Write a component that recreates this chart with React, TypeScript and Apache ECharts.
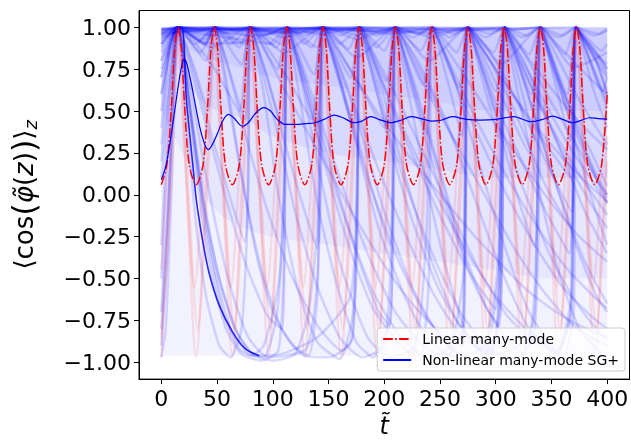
import React, { useEffect, useRef } from "react";
import * as echarts from "echarts";

// ---- tick values ----
const xTicks = [0, 50, 100, 150, 200, 250, 300, 350, 400];
const yTicks = [-1, -0.75, -0.5, -0.25, 0, 0.25, 0.5, 0.75, 1];

// ---- many-mode averages (t, value pairs, flat) ----
const linearManyMode = [
  0, 0.06, 5, 0.18, 9, 0.52, 12, 0.87, 15, 1.0, 18, 0.87, 21, 0.52, 25, 0.18, 31.25, 0.06,
  37.5, 0.18, 41.5, 0.52, 44.5, 0.87, 47.5, 1.0, 50.5, 0.87, 53.5, 0.52, 57.5, 0.18, 63.75, 0.06,
  70, 0.18, 74, 0.52, 77, 0.87, 80, 1.0, 83, 0.87, 86, 0.52, 90, 0.18, 96.25, 0.06,
  102.5, 0.18, 106.5, 0.52, 109.5, 0.87, 112.5, 1.0, 115.5, 0.87, 118.5, 0.52, 122.5, 0.18, 128.75, 0.06,
  135, 0.18, 139, 0.52, 142, 0.87, 145, 1.0, 148, 0.87, 151, 0.52, 155, 0.18, 161.25, 0.06,
  167.5, 0.18, 171.5, 0.52, 174.5, 0.87, 177.5, 1.0, 180.5, 0.87, 183.5, 0.52, 187.5, 0.18, 193.75, 0.06,
  200, 0.18, 204, 0.52, 207, 0.87, 210, 1.0, 213, 0.87, 216, 0.52, 220, 0.18, 226.25, 0.06,
  232.5, 0.18, 236.5, 0.52, 239.5, 0.87, 242.5, 1.0, 245.5, 0.87, 248.5, 0.52, 252.5, 0.18, 258.75, 0.06,
  265, 0.18, 269, 0.52, 272, 0.87, 275, 1.0, 278, 0.87, 281, 0.52, 285, 0.18, 291.25, 0.06,
  297.5, 0.18, 301.5, 0.52, 304.5, 0.87, 307.5, 1.0, 310.5, 0.87, 313.5, 0.52, 317.5, 0.18, 323.75, 0.06,
  330, 0.18, 334, 0.52, 337, 0.87, 340, 1.0, 343, 0.87, 346, 0.52, 350, 0.18, 356.25, 0.06,
  362.5, 0.18, 366.5, 0.52, 369.5, 0.87, 372.5, 1.0, 375.5, 0.87, 378.5, 0.52, 382.5, 0.18, 388.75, 0.06,
  395, 0.18, 400, 0.6,
];

const nonLinearManyMode = [
  0, 0.09, 4, 0.17, 8, 0.32, 12, 0.5, 15, 0.64, 18, 0.76, 20.5, 0.81, 23, 0.78, 27, 0.66, 31, 0.52,
  35, 0.39, 39, 0.3, 42, 0.27, 45, 0.29, 50, 0.36, 55, 0.44, 60, 0.48, 65, 0.46, 70, 0.42, 73, 0.41,
  78, 0.43, 85, 0.49, 92, 0.52, 98, 0.5, 104, 0.45, 111, 0.42, 120, 0.42, 130, 0.425, 138, 0.43,
  146, 0.45, 155, 0.476, 163, 0.46, 173, 0.43, 180, 0.44, 188, 0.466, 197, 0.446, 206, 0.43,
  215, 0.445, 224, 0.466, 233, 0.455, 242, 0.44, 251, 0.445, 261, 0.466, 274, 0.45, 286, 0.446,
  300, 0.45, 316, 0.466, 332, 0.436, 342, 0.45, 351, 0.47, 360, 0.45, 369, 0.43, 377, 0.445,
  384, 0.46, 392, 0.455, 400, 0.452,
];

// ---- haze of the many faint single-mode curves (band edges) ----
const hazeT = [0, 15, 30, 50, 75, 100, 150, 200, 250, 300, 350, 400];
const hazeTop = [1, 1, 1, 1, 1, 1, 1, 1, 1, 1, 1, 1];
const hazeLowB = [0.5, 0.3, 0.1, -0.1, -0.2, -0.25, -0.3, -0.35, -0.4, -0.45, -0.5, -0.5];
const hazeLowC = [0.85, 0.75, 0.6, 0.5, 0.45, 0.35, 0.25, 0.2, 0.15, 0.1, 0.1, 0.1];
const hazeLowD = [0.95, 0.9, 0.85, 0.8, 0.75, 0.7, 0.65, 0.6, 0.55, 0.5, 0.5, 0.5];
const hazeFloor = -0.96;

// ---- single modes (faint) ----
const nonLinearDarkMode = [
  10, 0.96, 18, 1.0, 22.5, 0.57, 28.4, 0.17, 31.4, -0.03, 37, -0.27, 43, -0.47, 52, -0.66,
  64, -0.82, 75.5, -0.92, 88, -0.96,
];

const nl01 = [0, 0.97, 15, 1, 30, 0.97, 48, 1, 62, 0.96, 80, 1, 95, 0.96, 113, 1, 128, 0.95, 145, 1, 160, 0.95, 178, 1, 193, 0.95, 210, 1, 226, 0.94, 243, 1, 258, 0.94, 275, 1, 291, 0.94, 308, 1, 323, 0.94, 340, 1, 356, 0.94, 372, 1, 388, 0.95, 400, 0.98];
const nl02 = [0, 0.8, 15, 1, 38, 0.9, 48, 1, 70, 0.9, 80, 1, 103, 0.88, 113, 1, 135, 0.88, 145, 1, 168, 0.87, 178, 1, 200, 0.86, 210, 1, 233, 0.86, 243, 1, 265, 0.85, 275, 1, 298, 0.85, 308, 1, 330, 0.84, 340, 1, 362, 0.84, 372, 1, 395, 0.86, 400, 0.9];
const nl03 = [0, 0.5, 8, 0.9, 15, 1, 40, 0.8, 48, 1, 72, 0.78, 80, 1, 104, 0.75, 113, 1, 137, 0.72, 145, 1, 170, 0.7, 178, 1, 202, 0.68, 210, 1, 235, 0.66, 243, 1, 267, 0.64, 275, 1, 300, 0.62, 308, 1, 332, 0.6, 340, 1, 364, 0.6, 372, 1, 396, 0.62, 400, 0.7];
const nl04 = [0, 0.95, 15, 1, 48, 0.75, 70, 0.5, 80, 1, 113, 0.7, 135, 0.45, 145, 1, 178, 0.65, 200, 0.4, 210, 1, 243, 0.6, 265, 0.3, 275, 1, 308, 0.55, 330, 0.25, 340, 1, 372, 0.6, 400, 0.3];
const nl05 = [0, 0.2, 8, 0.75, 15, 1, 25, 0.55, 35, 0.05, 48, -0.45, 62, -0.8, 78, -0.95, 92, -0.97, 104, -0.7, 110, 0.0, 113, 1, 125, 0.7, 140, 0.2, 160, -0.4, 185, -0.85, 205, -0.97, 228, -0.9, 238, -0.2, 243, 1, 260, 0.75, 280, 0.3, 305, -0.25, 330, -0.7, 355, -0.93, 368, -0.6, 372, 1, 390, 0.8, 400, 0.6];
const nl06 = [0, -0.5, 6, 0.3, 12, 0.9, 15, 1, 22, 0.5, 30, -0.1, 40, -0.6, 52, -0.9, 62, -0.97, 72, -0.8, 78, 0.0, 80, 1, 92, 0.6, 105, 0.0, 122, -0.55, 140, -0.88, 160, -0.98, 172, -0.7, 176, 0.2, 178, 1, 195, 0.7, 215, 0.2, 240, -0.35, 265, -0.75, 290, -0.95, 302, -0.5, 306, 0.4, 308, 1, 325, 0.8, 350, 0.4, 380, -0.1, 400, -0.35];
const nl07 = [0, 0.7, 15, 1, 35, 0.85, 48, 1, 58, 0.7, 70, 0.2, 85, -0.35, 100, -0.7, 118, -0.9, 132, -0.96, 140, -0.6, 145, 1, 160, 0.75, 178, 0.4, 200, -0.1, 225, -0.55, 250, -0.85, 268, -0.95, 273, -0.2, 275, 1, 295, 0.8, 320, 0.45, 345, 0.05, 368, -0.2, 372, 1, 390, 0.85, 400, 0.75];
const nl08 = [0, 0.9, 15, 1, 40, 0.9, 48, 1, 70, 0.88, 80, 1, 92, 0.7, 105, 0.35, 120, -0.1, 140, -0.55, 160, -0.85, 180, -0.97, 200, -0.9, 207, -0.2, 210, 1, 230, 0.8, 255, 0.45, 280, 0.0, 305, -0.45, 330, -0.8, 355, -0.95, 367, -0.7, 372, 1, 390, 0.8, 400, 0.6];
const nl09 = [0, 0.95, 15, 1, 48, 0.95, 80, 0.92, 100, 0.9, 113, 1, 125, 0.8, 140, 0.5, 160, 0.1, 185, -0.35, 210, -0.7, 235, -0.9, 255, -0.97, 270, -0.8, 275, 1, 295, 0.85, 320, 0.55, 345, 0.2, 368, -0.1, 372, 1, 390, 0.85, 400, 0.75];
const nl10 = [0, 0.85, 15, 1, 40, 0.93, 48, 1, 75, 0.9, 80, 1, 108, 0.9, 113, 1, 140, 0.88, 145, 1, 158, 0.8, 175, 0.5, 195, 0.15, 220, -0.25, 245, -0.6, 270, -0.85, 295, -0.95, 303, -0.6, 308, 1, 325, 0.85, 350, 0.55, 372, 0.3, 390, 0.1, 400, 0.0];
const nl11 = [0, 0.98, 15, 1, 48, 1, 80, 0.97, 113, 0.98, 145, 0.97, 178, 1, 190, 0.85, 210, 0.6, 235, 0.25, 260, -0.1, 285, -0.45, 310, -0.72, 335, -0.88, 360, -0.96, 370, -0.7, 372, 1, 385, 0.85, 400, 0.7];
const nl12 = [0, 0.75, 15, 1, 30, 0.9, 48, 1, 62, 0.9, 80, 1, 96, 0.9, 113, 1, 128, 0.9, 145, 1, 160, 0.9, 178, 1, 193, 0.88, 210, 1, 222, 0.85, 240, 0.6, 265, 0.3, 290, 0.0, 315, -0.3, 340, -0.55, 365, -0.75, 385, -0.85, 400, -0.9];
const nl13 = [0, 0.99, 48, 1, 113, 0.99, 178, 1, 243, 1, 255, 0.88, 275, 0.68, 300, 0.42, 325, 0.18, 350, -0.05, 375, -0.25, 400, -0.4];
const nl14 = [0, 0.9, 15, 1, 48, 0.97, 80, 1, 113, 0.96, 145, 1, 178, 0.95, 210, 1, 243, 0.94, 275, 1, 290, 0.85, 310, 0.65, 335, 0.42, 360, 0.22, 385, 0.05, 400, -0.04];
const nl15 = [0, 0.93, 15, 1, 80, 0.98, 145, 1, 210, 0.97, 275, 0.98, 308, 1, 322, 0.88, 340, 0.72, 360, 0.55, 380, 0.4, 400, 0.27];
const nl16 = [0, 0.99, 80, 1, 160, 0.99, 240, 1, 320, 0.99, 340, 1, 355, 0.9, 372, 0.78, 390, 0.66, 400, 0.6];
const nl17 = [0, 0.1, 10, 0.8, 15, 1, 30, 0.72, 45, 0.36, 60, 0.02, 75, -0.28, 78, 0.2, 80, 1, 95, 0.7, 110, 0.33, 125, -0.02, 140, -0.32, 143, 0.3, 145, 1, 160, 0.7, 175, 0.36, 190, 0.01, 205, -0.3, 208, 0.3, 210, 1, 225, 0.68, 240, 0.34, 255, 0.0, 270, -0.33, 273, 0.3, 275, 1, 290, 0.7, 305, 0.35, 320, -0.02, 335, -0.31, 338, 0.3, 340, 1, 355, 0.7, 370, 0.35, 385, 0.0, 400, -0.3];
const nl18 = [0, -0.7, 8, 0.2, 15, 1, 35, 0.55, 55, 0.05, 75, -0.4, 95, -0.72, 108, -0.8, 111, 0.0, 113, 1, 133, 0.6, 155, 0.1, 175, -0.35, 195, -0.7, 205, -0.78, 208, 0.0, 210, 1, 230, 0.6, 252, 0.1, 272, -0.35, 292, -0.68, 303, -0.78, 306, 0.0, 308, 1, 328, 0.62, 350, 0.15, 372, -0.3, 390, -0.6, 400, -0.7];
const nl19 = [0, 0.6, 15, 1, 30, 0.75, 42, 0.5, 48, 1, 62, 0.72, 75, 0.45, 80, 1, 95, 0.7, 108, 0.42, 113, 1, 128, 0.7, 140, 0.4, 145, 1, 160, 0.68, 172, 0.4, 178, 1, 193, 0.68, 205, 0.38, 210, 1, 225, 0.66, 238, 0.36, 243, 1, 258, 0.65, 270, 0.35, 275, 1, 290, 0.64, 303, 0.34, 308, 1, 323, 0.63, 335, 0.33, 340, 1, 355, 0.62, 367, 0.32, 372, 1, 388, 0.62, 400, 0.4];
const nl20 = [0, -0.9, 5, -0.4, 10, 0.5, 15, 1, 28, 0.4, 40, -0.2, 55, -0.7, 70, -0.92, 80, -0.96, 92, -0.9, 106, -0.5, 111, 0.3, 113, 1, 125, 0.55, 140, -0.05, 158, -0.55, 175, -0.88, 190, -0.97, 205, -0.75, 209, 0.2, 210, 1, 222, 0.6, 240, 0.0, 258, -0.5, 275, -0.85, 295, -0.97, 305, -0.6, 308, 1, 320, 0.6, 338, 0.05, 356, -0.45, 375, -0.8, 395, -0.95, 400, -0.97];
const nl21 = [0, -0.97, 4, -0.8, 9, 0.0, 13, 0.8, 15, 1, 24, 0.72, 35, 0.3, 48, -0.15, 62, -0.55, 78, -0.85, 96, -0.97, 130, -0.92, 140, -0.5, 144, 0.3, 145, 1, 158, 0.75, 175, 0.3, 195, -0.2, 218, -0.6, 240, -0.87, 265, -0.97, 290, -0.9, 302, -0.4, 308, 1, 322, 0.75, 340, 0.35, 360, -0.05, 380, -0.4, 400, -0.65];
const nl22 = [0, 0.4, 7, 0.85, 15, 1, 26, 0.5, 38, -0.05, 52, -0.5, 68, -0.82, 84, -0.96, 100, -0.96, 140, -0.85, 170, -0.6, 176, 0.2, 178, 1, 190, 0.7, 205, 0.3, 225, -0.15, 248, -0.55, 272, -0.82, 300, -0.95, 330, -0.85, 337, -0.2, 340, 1, 352, 0.75, 372, 0.45, 400, 0.05];
const nl23 = [0, 0.99, 15, 1, 35, 0.98, 48, 1, 68, 0.98, 80, 1, 100, 0.97, 113, 1, 133, 0.97, 145, 1, 165, 0.97, 178, 1, 198, 0.96, 210, 1, 230, 0.96, 243, 1, 263, 0.96, 275, 1, 295, 0.96, 308, 1, 328, 0.95, 340, 1, 360, 0.95, 372, 1, 392, 0.96, 400, 0.99];
const nl24 = [0, 0.3, 8, 0.85, 15, 1, 45, 0.88, 80, 1, 110, 0.85, 145, 1, 175, 0.82, 210, 1, 240, 0.8, 275, 1, 305, 0.78, 340, 1, 370, 0.76, 400, 0.85];
const nl25 = [0, -0.3, 6, 0.5, 12, 0.95, 15, 1, 22, 0.75, 30, 0.35, 40, -0.1, 52, -0.5, 66, -0.8, 82, -0.95, 100, -0.99, 120, -0.95, 132, -0.7, 140, -0.2, 145, 1, 152, 0.85, 165, 0.55, 185, 0.1, 210, -0.35, 235, -0.7, 260, -0.92, 285, -0.99, 300, -0.85, 306, -0.2, 308, 1, 318, 0.85, 335, 0.6, 360, 0.25, 385, -0.05, 400, -0.2];
const nl26 = [0, -0.8, 6, -0.1, 11, 0.7, 15, 1, 20, 0.8, 27, 0.4, 36, -0.1, 46, -0.5, 58, -0.8, 72, -0.95, 90, -0.99, 105, -0.93, 110, -0.4, 113, 1, 120, 0.85, 132, 0.55, 148, 0.15, 168, -0.3, 190, -0.68, 215, -0.9, 232, -0.97, 240, -0.5, 243, 1, 252, 0.88, 268, 0.65, 290, 0.35, 315, 0.05, 340, -0.22, 365, -0.45, 390, -0.62, 400, -0.68];
const nl27 = [0, 0.92, 15, 1, 38, 0.95, 48, 1, 56, 0.85, 68, 0.55, 82, 0.2, 98, -0.15, 118, -0.5, 140, -0.78, 162, -0.93, 172, -0.85, 176, 0.0, 178, 1, 188, 0.85, 205, 0.55, 228, 0.2, 252, -0.15, 278, -0.48, 300, -0.68, 305, 0.2, 308, 1, 320, 0.85, 340, 0.6, 365, 0.3, 390, 0.05, 400, -0.05];
const nl28 = [0, 0.97, 15, 1, 48, 0.98, 80, 1, 90, 0.9, 105, 0.7, 125, 0.45, 150, 0.15, 175, -0.15, 200, -0.42, 225, -0.65, 250, -0.82, 270, -0.9, 275, 1, 290, 0.85, 315, 0.6, 340, 0.35, 368, 0.1, 372, 1, 388, 0.85, 400, 0.78];
const nl29 = [0, 0.96, 48, 0.99, 113, 0.98, 145, 1, 155, 0.9, 172, 0.72, 195, 0.48, 220, 0.25, 248, 0.02, 275, -0.2, 300, -0.38, 325, -0.55, 350, -0.68, 375, -0.78, 400, -0.85];
const nl30 = [0, 0.88, 15, 1, 45, 0.95, 80, 1, 110, 0.94, 145, 1, 175, 0.93, 210, 1, 218, 0.8, 230, 0.5, 245, 0.15, 262, -0.2, 282, -0.55, 305, -0.82, 325, -0.95, 335, -0.8, 339, 0.0, 340, 1, 350, 0.82, 365, 0.55, 385, 0.2, 400, 0.0];
const nl31 = [0, 0.94, 48, 1, 113, 0.97, 178, 1, 243, 0.96, 275, 1, 283, 0.85, 295, 0.6, 310, 0.3, 328, -0.02, 348, -0.35, 370, -0.62, 390, -0.8, 400, -0.86];
const nl32 = [0, 0.985, 80, 0.99, 160, 1, 240, 0.99, 310, 0.98, 340, 1, 348, 0.86, 360, 0.62, 375, 0.35, 390, 0.1, 400, -0.05];
const nl33 = [0, 0.97, 100, 0.99, 200, 0.98, 300, 0.99, 372, 1, 380, 0.88, 390, 0.7, 400, 0.52];
const nl34 = [0, 0.96, 15, 1, 48, 0.99, 113, 1, 178, 0.98, 243, 0.99, 308, 1, 318, 0.86, 333, 0.63, 352, 0.38, 375, 0.12, 400, -0.12];
const nl35 = [0, 0.9, 15, 1, 80, 0.95, 145, 1, 210, 0.96, 243, 1, 252, 0.86, 268, 0.6, 288, 0.3, 310, 0.0, 335, -0.3, 360, -0.55, 385, -0.72, 400, -0.8];
const nl36 = [0, 0.7, 15, 1, 40, 0.9, 48, 1, 80, 0.95, 113, 0.97, 145, 0.96, 178, 1, 187, 0.86, 203, 0.6, 224, 0.3, 248, -0.02, 275, -0.35, 302, -0.62, 330, -0.82, 355, -0.93, 368, -0.7, 372, 1, 385, 0.88, 400, 0.72];
const nl37 = [0, 0.8, 15, 1, 45, 0.9, 80, 0.92, 113, 1, 120, 0.85, 132, 0.55, 148, 0.2, 168, -0.2, 190, -0.58, 215, -0.85, 238, -0.97, 260, -0.9, 272, -0.4, 275, 1, 285, 0.82, 300, 0.55, 320, 0.25, 345, -0.1, 366, -0.35, 372, 1, 382, 0.85, 400, 0.55];
const nl38 = [0, 0.6, 8, 0.9, 15, 1, 35, 0.92, 48, 1, 54, 0.8, 63, 0.45, 75, 0.0, 90, -0.45, 108, -0.8, 128, -0.96, 150, -0.97, 170, -0.88, 176, -0.2, 178, 1, 186, 0.8, 200, 0.45, 220, 0.05, 245, -0.38, 270, -0.72, 295, -0.92, 320, -0.98, 335, -0.7, 340, 1, 350, 0.78, 370, 0.4, 390, 0.1, 400, -0.02];

const lin01 = [0, -0.97, 7, 0, 15, 1, 23, 0, 31.25, -0.97, 39.5, 0, 47.5, 1, 55.5, 0, 63.75, -0.97, 72, 0, 80, 1, 88, 0, 96.25, -0.97, 104.5, 0, 112.5, 1, 120.5, 0, 128.75, -0.97, 137, 0, 145, 1, 153, 0, 161.25, -0.97, 169.5, 0, 177.5, 1, 185.5, 0, 193.75, -0.97, 202, 0, 210, 1, 218, 0, 226.25, -0.97, 234.5, 0, 242.5, 1, 250.5, 0, 258.75, -0.97, 267, 0, 275, 1, 283, 0, 291.25, -0.97, 299.5, 0, 307.5, 1, 315.5, 0, 323.75, -0.97, 332, 0, 340, 1, 348, 0, 356.25, -0.97, 364.5, 0, 372.5, 1, 380.5, 0, 388.75, -0.97, 397, 0, 400, 0.35];
const lin02 = [0, -0.85, 8.5, 0, 16.5, 1, 24.5, 0, 32.75, -0.8, 41, 0, 49, 1, 57, 0, 65.25, -0.8, 73.5, 0, 81.5, 1, 89.5, 0, 97.75, -0.8, 106, 0, 114, 1, 122, 0, 130.25, -0.8, 138.5, 0, 146.5, 1, 154.5, 0, 162.75, -0.8, 171, 0, 179, 1, 187, 0, 195.25, -0.8, 203.5, 0, 211.5, 1, 219.5, 0, 227.75, -0.8, 236, 0, 244, 1, 252, 0, 260.25, -0.8, 268.5, 0, 276.5, 1, 284.5, 0, 292.75, -0.8, 301, 0, 309, 1, 317, 0, 325.25, -0.8, 333.5, 0, 341.5, 1, 349.5, 0, 357.75, -0.8, 366, 0, 374, 1, 382, 0, 390.25, -0.8, 398.5, 0, 400, 0.2];
const lin03 = [0, -0.45, 5.5, 0.2, 13.5, 1, 21.5, 0.2, 29.75, -0.55, 38, 0.2, 46, 1, 54, 0.2, 62.25, -0.55, 70.5, 0.2, 78.5, 1, 86.5, 0.2, 94.75, -0.55, 103, 0.2, 111, 1, 119, 0.2, 127.25, -0.55, 135.5, 0.2, 143.5, 1, 151.5, 0.2, 159.75, -0.55, 168, 0.2, 176, 1, 184, 0.2, 192.25, -0.55, 200.5, 0.2, 208.5, 1, 216.5, 0.2, 224.75, -0.55, 233, 0.2, 241, 1, 249, 0.2, 257.25, -0.55, 265.5, 0.2, 273.5, 1, 281.5, 0.2, 289.75, -0.55, 298, 0.2, 306, 1, 314, 0.2, 322.25, -0.55, 330.5, 0.2, 338.5, 1, 346.5, 0.2, 354.75, -0.55, 363, 0.2, 371, 1, 379, 0.2, 387.25, -0.55, 395.5, 0.2, 400, 0.65];

const nonLinearModes = [nl01, nl02, nl03, nl04, nl05, nl06, nl07, nl08, nl09, nl10, nl11, nl12, nl13, nl14, nl15, nl16, nl17, nl18, nl19, nl20, nl21, nl22, nl23, nl24, nl25, nl26, nl27, nl28, nl29, nl30, nl31, nl32, nl33, nl34, nl35, nl36, nl37, nl38];
const linearModes = [lin01, lin02, lin03];

const pairs = (flat: number[]) => {
  const out: number[][] = [];
  for (let i = 0; i + 1 < flat.length; i += 2) out.push([flat[i], flat[i + 1]]);
  return out;
};

const FONT = "DejaVu Sans";

export default function App() {
  const ref = useRef<HTMLDivElement>(null);
  useEffect(() => {
    if (!ref.current) return;
    const chart = echarts.init(ref.current, undefined, { renderer: "svg" });

    const faintBlue = nonLinearModes.map((d, i) => ({
      name: "nl" + i,
      type: "line",
      data: pairs(d),
      smooth: 0.2,
      symbol: "none",
      silent: true,
      z: 1,
      lineStyle: { color: "#0000ff", width: 2.6, opacity: 0.14 },
    }));
    const faintRed = linearModes.map((d, i) => ({
      name: "lin" + i,
      type: "line",
      data: pairs(d),
      smooth: 0.3,
      symbol: "none",
      silent: true,
      z: 2,
      lineStyle: { color: "#ff0000", width: 2.5, opacity: 0.1 },
    }));

    const band = (name: string, values: number[], origin: number, opacity: number) => ({
      name,
      type: "line",
      data: hazeT.map((t, i) => [t, values[i]]),
      smooth: 0.4,
      symbol: "none",
      silent: true,
      z: 0,
      lineStyle: { width: 0, opacity: 0 },
      areaStyle: { color: "#0000ff", opacity, origin },
    });
    const hazeSeries = [
      band("hazeA", hazeTop, hazeFloor, 0.05),
      band("hazeB", hazeLowB, 1, 0.05),
      band("hazeC", hazeLowC, 1, 0.06),
      band("hazeD", hazeLowD, 1, 0.06),
    ];

    chart.setOption({
      animation: false,
      textStyle: { fontFamily: FONT },
      grid: {
        left: 134.5,
        right: 1.5,
        top: 10.5,
        bottom: 62,
        show: true,
        borderColor: "#000",
        borderWidth: 1,
        backgroundColor: "transparent",
      },
      legend: {
        data: ["Linear many-mode", "Non-linear many-mode SG+"],
        orient: "vertical",
        right: 6,
        top: 328,
        align: "left",
        itemWidth: 28,
        itemHeight: 14,
        itemGap: 7,
        padding: [4, 6, 4, 5],
        borderColor: "#cccccc",
        borderWidth: 1,
        borderRadius: 3,
        backgroundColor: "rgba(255,255,255,0.8)",
        itemStyle: { opacity: 0 },
        textStyle: { fontFamily: FONT, fontSize: 14, color: "#000", padding: [0, 0, 0, 6] },
      },
      xAxis: {
        type: "value",
        min: -20,
        max: 420,
        name: "t\u0303",
        nameLocation: "middle",
        nameGap: 30,
        nameTextStyle: { fontFamily: FONT, fontSize: 24, fontStyle: "italic", color: "#000" },
        axisLine: { show: true, onZero: false, lineStyle: { color: "#000", width: 1 } },
        axisTick: { show: true, inside: false, length: 5, customValues: xTicks, lineStyle: { color: "#000" } },
        axisLabel: {
          customValues: xTicks,
          margin: 8,
          fontSize: 22,
          fontFamily: FONT,
          color: "#000",
          formatter: (v: number) => String(v),
        },
        splitLine: { show: false },
      },
      yAxis: {
        type: "value",
        min: -1.1,
        max: 1.1,
        name: "{a|\u27E8cos}{p|(}{b|\u03C6\u0303}{a|(}{b|z}{a|)}{p|)}{a|\u27E9}{c|z}",
        nameLocation: "middle",
        nameRotate: 90,
        nameGap: 99,
        nameTextStyle: {
          color: "#000",
          rich: {
            a: { fontFamily: FONT, fontSize: 26, color: "#000" },
            p: { fontFamily: FONT, fontSize: 32, color: "#000" },
            b: { fontFamily: FONT, fontSize: 26, fontStyle: "italic", color: "#000" },
            c: { fontFamily: FONT, fontSize: 18, fontStyle: "italic", color: "#000", padding: [12, 0, 0, 0] },
          },
        },
        axisLine: { show: true, onZero: false, lineStyle: { color: "#000", width: 1 } },
        axisTick: { show: true, inside: false, length: 5, customValues: yTicks, lineStyle: { color: "#000" } },
        axisLabel: {
          customValues: yTicks,
          margin: 8,
          fontSize: 22,
          fontFamily: FONT,
          color: "#000",
          formatter: (v: number) => (v < 0 ? "\u2212" : "") + Math.abs(v).toFixed(2),
        },
        splitLine: { show: false },
      },
      series: [
        ...hazeSeries,
        ...faintBlue,
        ...faintRed,
        {
          name: "nlDark",
          type: "line",
          data: pairs(nonLinearDarkMode),
          smooth: 0.3,
          symbol: "none",
          silent: true,
          z: 3,
          lineStyle: { color: "#0000ff", width: 1.6, opacity: 0.85 },
        },
        {
          name: "Linear many-mode",
          type: "line",
          data: pairs(linearManyMode),
          smooth: 0.3,
          symbol: "none",
          z: 5,
          itemStyle: { color: "#ff0000" },
          lineStyle: { color: "#ff0000", width: 1.5, type: [9.6, 2.4, 1.5, 2.4] },
        },
        {
          name: "Non-linear many-mode SG+",
          type: "line",
          data: pairs(nonLinearManyMode),
          smooth: 0.3,
          symbol: "none",
          z: 6,
          itemStyle: { color: "#0000ff" },
          lineStyle: { color: "#0000ff", width: 1.2 },
        },
      ],
    });
    return () => chart.dispose();
  }, []);
  return <div ref={ref} style={{ position: "fixed", left: 0, top: 0, width: 631, height: 443 }} />;
}
